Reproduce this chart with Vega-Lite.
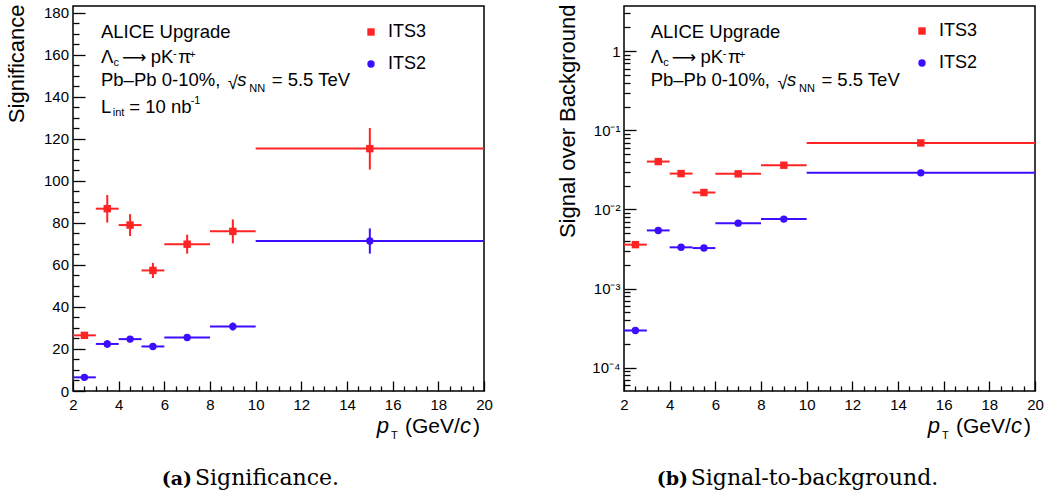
{
  "$schema": "https://vega.github.io/schema/vega-lite/v6.json",
  "padding": {"left": 4, "top": 3, "right": 5, "bottom": 0},
  "background": "white",
  "spacing": 140,
  "bounds": "flush",
  "config": {
    "font": "Liberation Sans",
    "view": {"stroke": "#000", "strokeWidth": 1.5},
    "axis": {"grid": false, "domain": false, "labelFont": "Liberation Sans", "labelFontSize": 15, "labelColor": "#000", "tickColor": "#000", "tickWidth": 1.3, "labelOverlap": false, "labelFlush": false, "titleColor": "#000", "titleFont": "Liberation Sans", "titleFontWeight": "normal"},
    "legend": {"labelFont": "Liberation Sans", "labelFontSize": 18, "labelColor": "#000", "rowPadding": 14, "symbolSize": 55, "symbolStrokeWidth": 0, "labelOffset": 8, "padding": 0},
    "text": {"font": "Liberation Sans", "fontSize": 18, "align": "left", "baseline": "alphabetic", "color": "#000"}
  },
  "datasets": {
    "pts": [
      {"det": "ITS3", "xc": 2.5, "xlo": 2, "xhi": 3, "sig": 26.5, "sigLo": 25.4, "sigHi": 27.6, "sb": 0.00359, "sbLo": 0.00343, "sbHi": 0.00375},
      {"det": "ITS3", "xc": 3.5, "xlo": 3, "xhi": 4, "sig": 86.8, "sigLo": 80.2, "sigHi": 93.3, "sb": 0.0403, "sbLo": 0.0388, "sbHi": 0.0418},
      {"det": "ITS3", "xc": 4.5, "xlo": 4, "xhi": 5, "sig": 79.0, "sigLo": 73.8, "sigHi": 84.2, "sb": 0.0284, "sbLo": 0.0273, "sbHi": 0.0295},
      {"det": "ITS3", "xc": 5.5, "xlo": 5, "xhi": 6, "sig": 57.4, "sigLo": 53.8, "sigHi": 61.0, "sb": 0.01637, "sbLo": 0.0157, "sbHi": 0.0171},
      {"det": "ITS3", "xc": 7, "xlo": 6, "xhi": 8, "sig": 69.9, "sigLo": 65.4, "sigHi": 74.4, "sb": 0.0282, "sbLo": 0.0271, "sbHi": 0.0293},
      {"det": "ITS3", "xc": 9, "xlo": 8, "xhi": 10, "sig": 76.0, "sigLo": 70.3, "sigHi": 81.7, "sb": 0.0362, "sbLo": 0.0347, "sbHi": 0.0377},
      {"det": "ITS3", "xc": 15, "xlo": 10, "xhi": 20, "sig": 115.4, "sigLo": 105.4, "sigHi": 125.2, "sb": 0.0693, "sbLo": 0.066, "sbHi": 0.0727},
      {"det": "ITS2", "xc": 2.5, "xlo": 2, "xhi": 3, "sig": 6.5, "sigLo": 5.8, "sigHi": 7.2, "sb": 0.000295, "sbLo": 0.00029, "sbHi": 0.0003},
      {"det": "ITS2", "xc": 3.5, "xlo": 3, "xhi": 4, "sig": 22.4, "sigLo": 20.6, "sigHi": 24.2, "sb": 0.00543, "sbLo": 0.0053, "sbHi": 0.00556},
      {"det": "ITS2", "xc": 4.5, "xlo": 4, "xhi": 5, "sig": 24.7, "sigLo": 23.3, "sigHi": 26.1, "sb": 0.00332, "sbLo": 0.00325, "sbHi": 0.00339},
      {"det": "ITS2", "xc": 5.5, "xlo": 5, "xhi": 6, "sig": 21.2, "sigLo": 20.2, "sigHi": 22.2, "sb": 0.00325, "sbLo": 0.00318, "sbHi": 0.00332},
      {"det": "ITS2", "xc": 7, "xlo": 6, "xhi": 8, "sig": 25.5, "sigLo": 24.0, "sigHi": 27.0, "sb": 0.00671, "sbLo": 0.00658, "sbHi": 0.00684},
      {"det": "ITS2", "xc": 9, "xlo": 8, "xhi": 10, "sig": 30.7, "sigLo": 28.8, "sigHi": 32.6, "sb": 0.00755, "sbLo": 0.0074, "sbHi": 0.0077},
      {"det": "ITS2", "xc": 15, "xlo": 10, "xhi": 20, "sig": 71.4, "sigLo": 65.4, "sigHi": 77.4, "sb": 0.029, "sbLo": 0.0283, "sbHi": 0.0297}
    ],
    "annL": [
      {"x": 3.226, "y": 167.95, "t": "ALICE Upgrade", "s": "n"},
      {"x": 3.226, "y": 156.33, "t": "Λ", "s": "n"},
      {"x": 4.146, "y": 156.33, "t": "⟶", "s": "ar"},
      {"x": 5.403, "y": 156.33, "t": "pK", "s": "n"},
      {"x": 6.612, "y": 156.33, "t": "π", "s": "n"},
      {"x": 3.226, "y": 145.24, "t": "Pb–Pb 0-10%,", "s": "n"},
      {"x": 8.775, "y": 143.81, "t": "√", "s": "n"},
      {"x": 10.702, "y": 145.24, "t": "= 5.5 TeV", "s": "n"},
      {"x": 3.226, "y": 132.24, "t": "L", "s": "n"},
      {"x": 4.466, "y": 132.24, "t": "= 10 nb", "s": "n"},
      {"x": 9.196, "y": 145.24, "t": "s", "s": "it"},
      {"x": 3.774, "y": 154.76, "t": "c", "s": "sm"},
      {"x": 6.38, "y": 159.05, "t": "-", "s": "sm"},
      {"x": 7.094, "y": 158.71, "t": "+", "s": "sm"},
      {"x": 9.722, "y": 142.52, "t": "NN", "s": "sm"},
      {"x": 3.739, "y": 130.71, "t": "int", "s": "sm"},
      {"x": 7.155, "y": 136.52, "t": "-1", "s": "sm"},
      {"x": 15.301, "y": -20.0, "t": "p", "s": "axi"},
      {"x": 15.927, "y": -22.86, "t": "T", "s": "sm"},
      {"x": 16.54, "y": -20.0, "t": "(GeV/", "s": "ax"},
      {"x": 18.949, "y": -20.0, "t": "c", "s": "axi"},
      {"x": 19.518, "y": -20.0, "t": ")", "s": "ax"},
      {"x": 5.885, "y": -44.76, "t": "(a)", "s": "cb"},
      {"x": 7.343, "y": -44.76, "t": "Significance.", "s": "cn"}
    ],
    "annR": [
      {"x": 3.169, "y": 1.459, "t": "ALICE Upgrade", "s": "n"},
      {"x": 3.169, "y": 0.716, "t": "Λ", "s": "n"},
      {"x": 4.089, "y": 0.716, "t": "⟶", "s": "ar"},
      {"x": 5.346, "y": 0.716, "t": "pK", "s": "n"},
      {"x": 6.555, "y": 0.716, "t": "π", "s": "n"},
      {"x": 3.169, "y": 0.364, "t": "Pb–Pb 0-10%,", "s": "n"},
      {"x": 8.718, "y": 0.333, "t": "√", "s": "n"},
      {"x": 10.645, "y": 0.364, "t": "= 5.5 TeV", "s": "n"},
      {"x": 9.139, "y": 0.364, "t": "s", "s": "it"},
      {"x": 3.717, "y": 0.652, "t": "c", "s": "sm"},
      {"x": 6.323, "y": 0.847, "t": "-", "s": "sm"},
      {"x": 7.037, "y": 0.83, "t": "+", "s": "sm"},
      {"x": 9.665, "y": 0.308, "t": "NN", "s": "sm"},
      {"x": 15.301, "y": 0.00001493, "t": "p", "s": "axi"},
      {"x": 15.927, "y": 0.00001253, "t": "T", "s": "sm"},
      {"x": 16.54, "y": 0.00001493, "t": "(GeV/", "s": "ax"},
      {"x": 18.949, "y": 0.00001493, "t": "c", "s": "axi"},
      {"x": 19.518, "y": 0.00001493, "t": ")", "s": "ax"},
      {"x": 3.432, "y": 0.00000329, "t": "(b)", "s": "cb"},
      {"x": 4.921, "y": 0.00000329, "t": "Signal-to-background.", "s": "cn"}
    ]
  },
  "hconcat": [
    {
      "width": 411,
      "height": 385,
      "resolve": {"axis": {"x": "independent", "y": "independent"}},
      "layer": [
        {
          "data": {"name": "pts"},
          "mark": {"type": "rule", "strokeWidth": 2},
          "encoding": {
            "x": {"field": "xlo", "type": "quantitative", "scale": {"domain": [2, 20], "nice": false, "zero": false},
              "axis": {"orient": "bottom", "title": null, "values": [2,4,6,8,10,12,14,16,18,20], "format": "d", "ticks": false, "labelPadding": 6}},
            "x2": {"field": "xhi"},
            "y": {"field": "sig", "type": "quantitative", "scale": {"domain": [0, 183.3], "nice": false, "zero": false},
              "axis": {"orient": "left", "title": "Significance", "titleFontSize": 22, "titleAngle": -90, "titleAlign": "right", "titleBaseline": "bottom", "titleX": -45, "titleY": -2,
                "values": [0,20,40,60,80,100,120,140,160,180], "format": "d", "ticks": false, "labelPadding": 4.5}},
            "color": {"field": "det", "type": "nominal", "scale": {"domain": ["ITS3", "ITS2"], "range": ["#ff2424", "#3d0dff"]}}
          }
        },
        {
          "data": {"name": "pts"},
          "mark": {"type": "rule", "strokeWidth": 2},
          "encoding": {
            "x": {"field": "xc", "type": "quantitative",
              "axis": {"orient": "top", "offset": -385, "title": null, "labels": false, "tickSize": 10, "values": [2,4,6,8,10,12,14,16,18,20]}},
            "y": {"field": "sigLo", "type": "quantitative",
              "axis": {"orient": "right", "offset": -411, "title": null, "labels": false, "tickSize": 12, "values": [0,20,40,60,80,100,120,140,160,180]}},
            "y2": {"field": "sigHi"},
            "color": {"field": "det", "type": "nominal"}
          }
        },
        {
          "data": {"name": "pts"},
          "mark": {"type": "point", "filled": true, "size": 55, "opacity": 1},
          "encoding": {
            "x": {"field": "xc", "type": "quantitative",
              "axis": {"orient": "top", "offset": -385, "title": null, "labels": false, "tickSize": 5, "values": [2.5,3,3.5,4.5,5,5.5,6.5,7,7.5,8.5,9,9.5,10.5,11,11.5,12.5,13,13.5,14.5,15,15.5,16.5,17,17.5,18.5,19,19.5]}},
            "y": {"field": "sig", "type": "quantitative",
              "axis": {"orient": "right", "offset": -411, "title": null, "labels": false, "tickSize": 6, "values": [5,10,15,25,30,35,45,50,55,65,70,75,85,90,95,105,110,115,125,130,135,145,150,155,165,170,175]}},
            "color": {"field": "det", "type": "nominal", "legend": {"orient": "none", "legendX": 289, "legendY": 17, "title": null}},
            "shape": {"field": "det", "type": "nominal", "scale": {"domain": ["ITS3", "ITS2"], "range": ["square", "circle"]}, "legend": {"orient": "none", "legendX": 289, "legendY": 17, "title": null}}
          }
        },
        {
          "data": {"name": "annL"},
          "transform": [{"filter": "datum.s === 'n'"}],
          "mark": {"type": "text", "fontSize": 18.5},
          "encoding": {"x": {"field": "x", "type": "quantitative", "axis": null}, "y": {"field": "y", "type": "quantitative", "axis": null}, "text": {"field": "t"}}
        },
        {
          "data": {"name": "annL"},
          "transform": [{"filter": "datum.s === 'ar'"}],
          "mark": {"type": "text", "fontSize": 17, "font": "DejaVu Sans"},
          "encoding": {"x": {"field": "x", "type": "quantitative", "axis": null}, "y": {"field": "y", "type": "quantitative", "axis": null}, "text": {"field": "t"}}
        },
        {
          "data": {"name": "annL"},
          "transform": [{"filter": "datum.s === 'it'"}],
          "mark": {"type": "text", "fontSize": 18.5, "fontStyle": "italic"},
          "encoding": {"x": {"field": "x", "type": "quantitative", "axis": null}, "y": {"field": "y", "type": "quantitative", "axis": null}, "text": {"field": "t"}}
        },
        {
          "data": {"name": "annL"},
          "transform": [{"filter": "datum.s === 'sm'"}],
          "mark": {"type": "text", "fontSize": 11},
          "encoding": {"x": {"field": "x", "type": "quantitative", "axis": null}, "y": {"field": "y", "type": "quantitative", "axis": null}, "text": {"field": "t"}}
        },
        {
          "data": {"name": "annL"},
          "transform": [{"filter": "datum.s === 'ax'"}],
          "mark": {"type": "text", "fontSize": 21},
          "encoding": {"x": {"field": "x", "type": "quantitative", "axis": null}, "y": {"field": "y", "type": "quantitative", "axis": null}, "text": {"field": "t"}}
        },
        {
          "data": {"name": "annL"},
          "transform": [{"filter": "datum.s === 'axi'"}],
          "mark": {"type": "text", "fontSize": 22, "fontStyle": "italic"},
          "encoding": {"x": {"field": "x", "type": "quantitative", "axis": null}, "y": {"field": "y", "type": "quantitative", "axis": null}, "text": {"field": "t"}}
        },
        {
          "data": {"name": "annL"},
          "transform": [{"filter": "datum.s === 'cb'"}],
          "mark": {"type": "text", "fontSize": 19, "font": "DejaVu Serif", "fontWeight": "bold"},
          "encoding": {"x": {"field": "x", "type": "quantitative", "axis": null}, "y": {"field": "y", "type": "quantitative", "axis": null}, "text": {"field": "t"}}
        },
        {
          "data": {"name": "annL"},
          "transform": [{"filter": "datum.s === 'cn'"}],
          "mark": {"type": "text", "fontSize": 22, "font": "DejaVu Serif"},
          "encoding": {"x": {"field": "x", "type": "quantitative", "axis": null}, "y": {"field": "y", "type": "quantitative", "axis": null}, "text": {"field": "t"}}
        }
      ]
    },
    {
      "width": 411,
      "height": 385,
      "resolve": {"axis": {"x": "independent", "y": "independent"}},
      "layer": [
        {
          "data": {"name": "pts"},
          "mark": {"type": "rule", "strokeWidth": 2},
          "encoding": {
            "x": {"field": "xlo", "type": "quantitative", "scale": {"domain": [2, 20], "nice": false, "zero": false},
              "axis": {"orient": "bottom", "title": null, "values": [2,4,6,8,10,12,14,16,18,20], "format": "d", "ticks": false, "labelPadding": 6}},
            "x2": {"field": "xhi"},
            "y": {"field": "sb", "type": "quantitative", "scale": {"type": "log", "domain": [0.0000507, 3.73], "nice": false, "zero": false},
              "axis": {"orient": "left", "title": "Signal over Background", "titleFontSize": 22, "titleAngle": -90, "titleAlign": "right", "titleBaseline": "bottom", "titleX": -45, "titleY": -2,
                "values": [0.0001, 0.001, 0.01, 0.1, 1],
                "labelExpr": "datum.value === 1 ? '1' : datum.value === 0.1 ? '10⁻¹' : datum.value === 0.01 ? '10⁻²' : datum.value === 0.001 ? '10⁻³' : '10⁻⁴'",
                "ticks": false, "labelPadding": 4}},
            "color": {"field": "det", "type": "nominal", "scale": {"domain": ["ITS3", "ITS2"], "range": ["#ff2424", "#3d0dff"]}}
          }
        },
        {
          "data": {"name": "pts"},
          "mark": {"type": "rule", "strokeWidth": 2},
          "encoding": {
            "x": {"field": "xc", "type": "quantitative",
              "axis": {"orient": "top", "offset": -385, "title": null, "labels": false, "tickSize": 10, "values": [2,4,6,8,10,12,14,16,18,20]}},
            "y": {"field": "sbLo", "type": "quantitative",
              "axis": {"orient": "right", "offset": -411, "title": null, "labels": false, "tickSize": 12, "values": [0.0001, 0.001, 0.01, 0.1, 1]}},
            "y2": {"field": "sbHi"},
            "color": {"field": "det", "type": "nominal"}
          }
        },
        {
          "data": {"name": "pts"},
          "mark": {"type": "point", "filled": true, "size": 55, "opacity": 1},
          "encoding": {
            "x": {"field": "xc", "type": "quantitative",
              "axis": {"orient": "top", "offset": -385, "title": null, "labels": false, "tickSize": 5, "values": [2.5,3,3.5,4.5,5,5.5,6.5,7,7.5,8.5,9,9.5,10.5,11,11.5,12.5,13,13.5,14.5,15,15.5,16.5,17,17.5,18.5,19,19.5]}},
            "y": {"field": "sb", "type": "quantitative",
              "axis": {"orient": "right", "offset": -411, "title": null, "labels": false, "tickSize": 6, "values": [0.00006,0.00007,0.00008,0.00009,0.0002,0.0003,0.0004,0.0005,0.0006,0.0007,0.0008,0.0009,0.002,0.003,0.004,0.005,0.006,0.007,0.008,0.009,0.02,0.03,0.04,0.05,0.06,0.07,0.08,0.09,0.2,0.3,0.4,0.5,0.6,0.7,0.8,0.9,2,3]}},
            "color": {"field": "det", "type": "nominal", "legend": {"orient": "none", "legendX": 289, "legendY": 16, "title": null}},
            "shape": {"field": "det", "type": "nominal", "scale": {"domain": ["ITS3", "ITS2"], "range": ["square", "circle"]}, "legend": {"orient": "none", "legendX": 289, "legendY": 16, "title": null}}
          }
        },
        {
          "data": {"name": "annR"},
          "transform": [{"filter": "datum.s === 'n'"}],
          "mark": {"type": "text", "fontSize": 18.5},
          "encoding": {"x": {"field": "x", "type": "quantitative", "axis": null}, "y": {"field": "y", "type": "quantitative", "axis": null}, "text": {"field": "t"}}
        },
        {
          "data": {"name": "annR"},
          "transform": [{"filter": "datum.s === 'ar'"}],
          "mark": {"type": "text", "fontSize": 17, "font": "DejaVu Sans"},
          "encoding": {"x": {"field": "x", "type": "quantitative", "axis": null}, "y": {"field": "y", "type": "quantitative", "axis": null}, "text": {"field": "t"}}
        },
        {
          "data": {"name": "annR"},
          "transform": [{"filter": "datum.s === 'it'"}],
          "mark": {"type": "text", "fontSize": 18.5, "fontStyle": "italic"},
          "encoding": {"x": {"field": "x", "type": "quantitative", "axis": null}, "y": {"field": "y", "type": "quantitative", "axis": null}, "text": {"field": "t"}}
        },
        {
          "data": {"name": "annR"},
          "transform": [{"filter": "datum.s === 'sm'"}],
          "mark": {"type": "text", "fontSize": 11},
          "encoding": {"x": {"field": "x", "type": "quantitative", "axis": null}, "y": {"field": "y", "type": "quantitative", "axis": null}, "text": {"field": "t"}}
        },
        {
          "data": {"name": "annR"},
          "transform": [{"filter": "datum.s === 'ax'"}],
          "mark": {"type": "text", "fontSize": 21},
          "encoding": {"x": {"field": "x", "type": "quantitative", "axis": null}, "y": {"field": "y", "type": "quantitative", "axis": null}, "text": {"field": "t"}}
        },
        {
          "data": {"name": "annR"},
          "transform": [{"filter": "datum.s === 'axi'"}],
          "mark": {"type": "text", "fontSize": 22, "fontStyle": "italic"},
          "encoding": {"x": {"field": "x", "type": "quantitative", "axis": null}, "y": {"field": "y", "type": "quantitative", "axis": null}, "text": {"field": "t"}}
        },
        {
          "data": {"name": "annR"},
          "transform": [{"filter": "datum.s === 'cb'"}],
          "mark": {"type": "text", "fontSize": 19, "font": "DejaVu Serif", "fontWeight": "bold"},
          "encoding": {"x": {"field": "x", "type": "quantitative", "axis": null}, "y": {"field": "y", "type": "quantitative", "axis": null}, "text": {"field": "t"}}
        },
        {
          "data": {"name": "annR"},
          "transform": [{"filter": "datum.s === 'cn'"}],
          "mark": {"type": "text", "fontSize": 22, "font": "DejaVu Serif"},
          "encoding": {"x": {"field": "x", "type": "quantitative", "axis": null}, "y": {"field": "y", "type": "quantitative", "axis": null}, "text": {"field": "t"}}
        }
      ]
    }
  ],
  "resolve": {
    "scale": {"x": "independent", "y": "independent", "color": "independent", "shape": "independent"},
    "legend": {"color": "independent", "shape": "independent"}
  }
}
